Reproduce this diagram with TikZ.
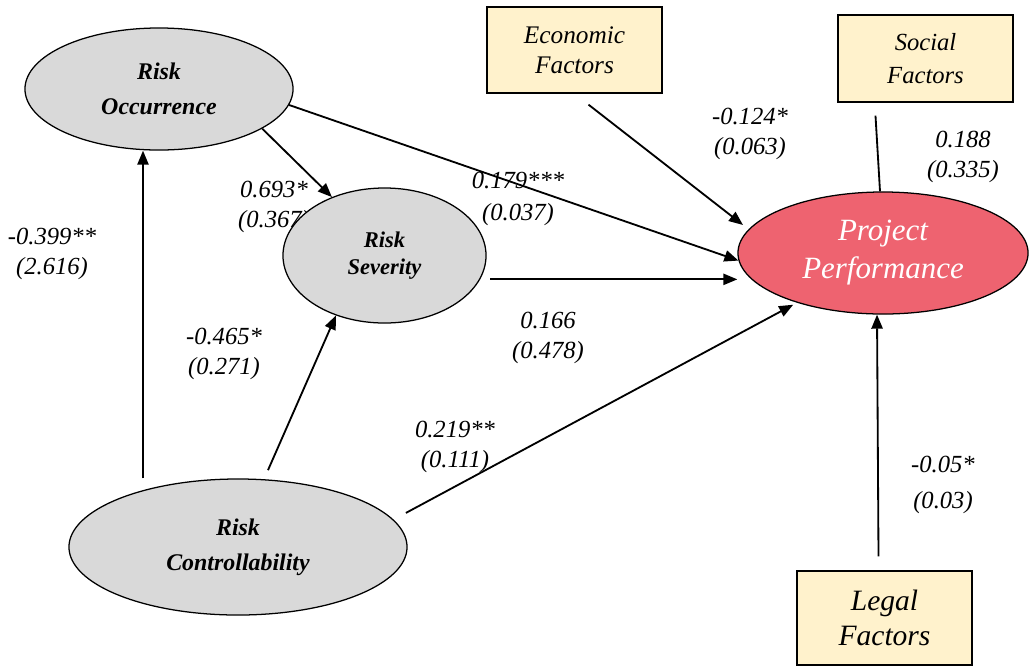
\documentclass[tikz,border=0pt]{standalone}
\usepackage{fontspec}
\setmainfont{Liberation Serif}
\usepackage{tikz}
\usetikzlibrary{shapes.geometric,arrows.meta}

\definecolor{latentgray}{RGB}{217,217,217}
\definecolor{perfred}{RGB}{238,99,112}
\definecolor{factoryellow}{RGB}{255,242,204}

\begin{document}
\begin{tikzpicture}[x=0.025cm,y=-0.025cm,
		latent/.style={ellipse,draw,line width=0.9pt,fill=latentgray,inner sep=0pt,align=center,
			font=\fontsize{17}{25}\selectfont\bfseries\itshape},
		outcome/.style={ellipse,draw,line width=0.9pt,fill=perfred,text=white,inner sep=0pt,align=center,
			font=\fontsize{22}{27}\selectfont\itshape},
		factor/.style={rectangle,draw,line width=0.9pt,fill=factoryellow,inner sep=0pt,align=center,
			minimum width=4.375cm,font=\fontsize{18}{21}\selectfont\itshape},
		coef/.style={align=center,inner sep=0pt,font=\fontsize{17.5}{21}\selectfont\itshape},
		link/.style={line width=1.3pt,-{Triangle[length=10pt,width=8pt]}},
	]
		\useasboundingbox (0,0) rectangle (1030,666);

		% path coefficients
		\node[coef] (c693) at (274,207) {0.693*\\(0.367)};
		\node[coef] (c399) at (52,254) {-0.399**\\(2.616)};
		\node[coef] (c179) at (518,199) {0.179***\\[2pt](0.037)};
		\node[coef] (c124) at (750,134) {-0.124*\\(0.063)};
		\node[coef] (c188) at (963,157) {0.188\\(0.335)};
		\node[coef] (c166) at (548,338) {0.166\\(0.478)};
		\node[coef] (c465) at (224,354) {-0.465*\\(0.271)};
		\node[coef] (c219) at (455,447) {0.219**\\(0.111)};
		\node[coef] (c05) at (943,485) {-0.05*\\[4pt](0.03)};

		% constructs
		\node[latent,minimum width=6.7cm,minimum height=3.05cm] (occ) at (159,89) {Risk\\Occurrence};
		\node[latent,minimum width=5.075cm,minimum height=3.375cm,
			font=\fontsize{16}{19.5}\selectfont\bfseries\itshape] (sev) at (384.5,255.5) {Risk\\Severity};
		\node[latent,minimum width=8.45cm,minimum height=3.4cm] (ctl) at (238,547) {Risk\\Controllability};
		\node[outcome,minimum width=7.25cm,minimum height=3.05cm] (perf) at (883,253) {Project\\Performance};

		% external factors
		\node[factor,minimum height=2.15cm] (eco) at (574.5,50) {Economic\\Factors};
		\node[factor,minimum height=2.175cm,font=\fontsize{17.5}{24}\selectfont\itshape] (soc) at (925.5,58.5) {Social\\Factors};
		\node[factor,minimum height=2.35cm,font=\fontsize{21}{25}\selectfont\itshape] (leg) at (884.5,618) {Legal\\Factors};

		\coordinate (occfoot) at ([xshift=-0.4cm]occ.south);

		\draw[link] (occ.-21) -- (sev.132);
		\draw[link] (occ.-7) -- (perf.183);
		\draw[link,shorten <=7pt] (sev.-14) -- (sev.-14 -| perf.west);
		\draw[link] (occfoot |- ctl.north) -- (occfoot);
		\draw[link,shorten <=7pt] (ctl.69) -- (sev.231);
		\draw[link,shorten <=10pt,shorten >=3pt] (ctl.10) -- (perf.210);
		\draw[link,shorten >=5pt] ([xshift=0.35cm,yshift=-0.275cm]eco.south) -- (perf.170);
		\draw[line width=1.3pt] ([xshift=-1.25cm,yshift=-0.325cm]soc.south) -- ([xshift=-0.075cm]perf.north);
		\draw[link] ([xshift=-0.15cm,yshift=0.35cm]leg.north) -- ([xshift=-0.15cm]perf.south);
	\end{tikzpicture}
\end{document}
